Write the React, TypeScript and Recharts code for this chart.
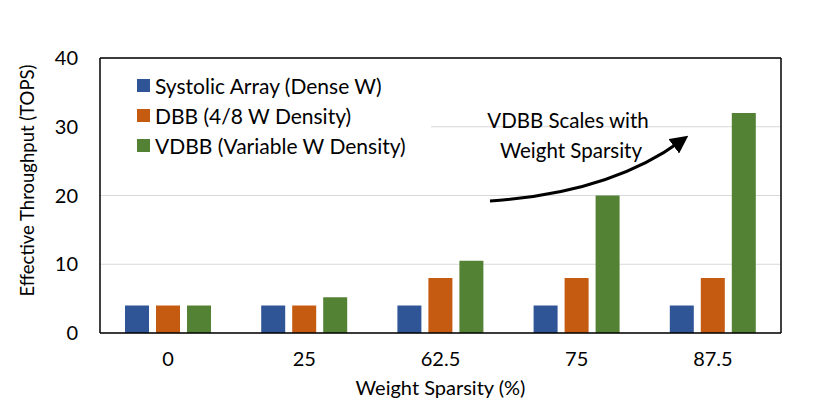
import { BarChart, Bar, XAxis, YAxis, CartesianGrid, Legend, Label } from "recharts"

const FONT = "Lato, 'Noto Sans', sans-serif"

// weight sparsity levels (%)
const categories = ["0", "25", "62.5", "75", "87.5"]
// effective throughput (TOPS)
const systolic = [4, 4, 4, 4, 4]
const dbb = [4, 4, 8, 8, 8]
const vdbb = [4, 5.2, 10.5, 20, 32]

const yTicks = [0, 10, 20, 30, 40]

const series = [
  { key: "systolic", name: "Systolic Array (Dense W)", color: "#2F5597" },
  { key: "dbb", name: "DBB (4/8 W Density)", color: "#C55A11" },
  { key: "vdbb", name: "VDBB (Variable W Density)", color: "#548235" },
]

function renderLegend(props: any) {
  const payload = props.payload ?? []
  const order = (v: string) => series.findIndex((s) => s.name === v)
  const items = [...payload].sort((a: any, b: any) => order(a.value) - order(b.value))
  return (
    <div style={{ background: "#fff", padding: "11px 0 8px 36px", fontFamily: FONT }}>
      {items.map((entry: any) => (
        <div key={entry.value} style={{ display: "flex", alignItems: "center", height: 30, fontSize: 21, color: "#000" }}>
          <span style={{ display: "inline-block", width: 13, height: 13, background: entry.color, marginRight: 5 }} />
          {entry.value}
        </div>
      ))}
    </div>
  )
}

export default function App() {
  const data = categories.map((c, i) => ({
    sparsity: c,
    systolic: systolic[i],
    dbb: dbb[i],
    vdbb: vdbb[i],
  }))

  return (
    <div style={{ width: 830, height: 415, fontFamily: FONT }}>
      <style>{"body{margin:0}"}</style>
      <BarChart
        width={830}
        height={415}
        data={data}
        margin={{ top: 57, right: 48, bottom: 0, left: 0 }}
        barCategoryGap={25}
        barGap={7}
      >
        <CartesianGrid vertical={false} stroke="#d9d9d9" />
        <XAxis
          dataKey="sparsity"
          height={82}
          tickLine={false}
          axisLine={{ stroke: "#000", strokeWidth: 1.5 }}
          tick={{ fill: "#000", fontSize: 20, fontFamily: FONT }}
          tickMargin={13}
        >
          <Label value="Weight Sparsity (%)" position="insideBottom" offset={20} fill="#000" fontSize={20} fontFamily={FONT} />
        </XAxis>
        <XAxis xAxisId="top" orientation="top" dataKey="sparsity" height={1} tick={false} tickLine={false} axisLine={{ stroke: "#000", strokeWidth: 1.5 }} />
        <YAxis
          width={100}
          domain={[0, 40]}
          ticks={yTicks}
          tickLine={false}
          axisLine={{ stroke: "#000", strokeWidth: 1.5 }}
          tick={{ fill: "#000", fontSize: 20, fontFamily: FONT }}
          tickMargin={16}
        >
          <Label
            content={(p: any) => {
              const vb = p.viewBox ?? { x: 0, y: 58, height: 275 }
              const cx = vb.x + 27
              const cy = vb.y + vb.height / 2 - 15
              return (
                <text x={cx} y={cy} transform={`rotate(-90 ${cx} ${cy})`} textAnchor="middle" dominantBaseline="central" fill="#000" fontSize={18.5} fontFamily={FONT}>
                  Effective Throughput (TOPS)
                </text>
              )
            }}
          />
        </YAxis>
        <YAxis yAxisId="right" orientation="right" width={1} domain={[0, 40]} tick={false} tickLine={false} axisLine={{ stroke: "#000", strokeWidth: 1.5 }} />
        <Legend
          layout="vertical"
          align="center"
          verticalAlign="middle"
          content={renderLegend}
          wrapperStyle={{ left: 101, top: 59, width: 330 }}
        />
        {series.map((s) => (
          <Bar key={s.key} dataKey={s.key} name={s.name} fill={s.color} isAnimationActive={false} />
        ))}
        <defs>
          <marker id="arrowHead" markerWidth="6" markerHeight="6" refX="3" refY="3" orient="auto" markerUnits="strokeWidth">
            <path d="M0,0 L6,3 L0,6 Z" fill="#000" />
          </marker>
        </defs>
        <path d="M490,201 Q610,193 681,141" fill="none" stroke="#000" strokeWidth={3} markerEnd="url(#arrowHead)" />
        <text x={568} y={120} textAnchor="middle" dominantBaseline="central" fontSize={20.5} fontFamily={FONT} fill="#000">
          VDBB Scales with
        </text>
        <text x={571} y={150} textAnchor="middle" dominantBaseline="central" fontSize={20.5} fontFamily={FONT} fill="#000">
          Weight Sparsity
        </text>
      </BarChart>
    </div>
  )
}
